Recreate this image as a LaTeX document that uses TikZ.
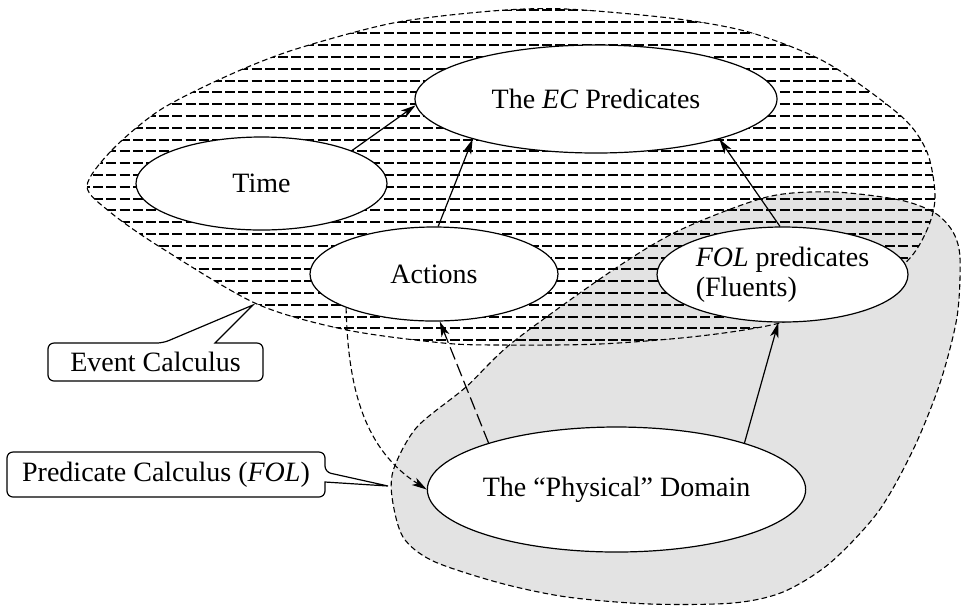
\documentclass[tikz,border=0pt]{standalone}
\usepackage{fontspec}
\setmainfont{Liberation Serif}
\usetikzlibrary{shapes.geometric,arrows.meta}
\begin{document}
\begin{tikzpicture}[x=0.5pt,y=-0.5pt,
  every node/.style={font=\fontsize{14}{15}\selectfont},
  bub/.style={ellipse,draw,line width=0.6pt,fill=white,inner sep=0pt},
  bnd/.style={line width=0.55pt,dash pattern=on 2.8pt off 1.6pt},
  hatch/.style={line width=1pt,dash pattern=on 5pt off 1.6pt},
  arr/.style={line width=0.6pt,-{Stealth[length=7.5pt,width=4.2pt,inset=2pt]}},
  lbl/.style={line width=0.6pt}]
\path[use as bounding box] (0,0) rectangle (962,607);

% grey FOL region
\fill[black!11] plot[smooth cycle] coordinates {(466,387) (513,342) (613,270) (680,230) (767,197) (833,192) (900,200) (935,213) (953,232) (960,258) (957,317) (940,383) (913,450) (878,512) (830,563) (783,592) (733,603) (650,604) (567,597) (500,583) (433,561) (403,537) (392,497) (394,468) (417,427)};

% hatched EC region
\begin{scope}
\clip plot[smooth cycle] coordinates {(87,186) (112,150) (160,110) (227,76) (293,50) (393,23) (492,11) (566,9) (678,19) (752,33) (827,63) (901,116) (927,152) (935,195) (929,225) (910,258) (865,295) (780,323) (700,336) (600,344) (500,345) (443,343) (347,330) (257,304) (160,247) (110,212)};
\foreach \k in {0,...,29}{\pgfmathsetmacro\yy{9.7+11.8*\k}\draw[hatch] (80,\yy) -- (945,\yy);}
\end{scope}

% region borders
\draw[bnd] plot[smooth cycle] coordinates {(87,186) (112,150) (160,110) (227,76) (293,50) (393,23) (492,11) (566,9) (678,19) (752,33) (827,63) (901,116) (927,152) (935,195) (929,225) (910,258) (865,295) (780,323) (700,336) (600,344) (500,345) (443,343) (347,330) (257,304) (160,247) (110,212)};
\draw[bnd] plot[smooth cycle] coordinates {(466,387) (513,342) (613,270) (680,230) (767,197) (833,192) (900,200) (935,213) (953,232) (960,258) (957,317) (940,383) (913,450) (878,512) (830,563) (783,592) (733,603) (650,604) (567,597) (500,583) (433,561) (403,537) (392,497) (394,468) (417,427)};

% nodes
\node[bub,minimum width=181pt,minimum height=54pt] (ec) at (596,99) {The \textit{EC} Predicates};
\node[bub,minimum width=125.5pt,minimum height=46.5pt] (time) at (261.5,183.5) {Time};
\node[bub,minimum width=124pt,minimum height=47pt] (act) at (434,274) {Actions};
\node[bub,minimum width=125.5pt,minimum height=47.5pt,align=left] (fol) at (782.5,274.5) {\textit{FOL} predicates\\(Fluents)};
\node[bub,minimum width=181.5pt,minimum height=62.5pt] (phys) at (616.5,489.5) {The “Physical” Domain};

% connectors
\draw[arr] (time.20) -- (ec.182);
\draw[arr] (act.85) -- (ec.198);
\draw[arr] (fol.93) -- (ec.342);
\draw[arr] (phys.20.6) -- (fol.265);
\draw[arr,dash pattern=on 6.5pt off 2.5pt] (phys.160) -- (act.277);
\draw[arr,line width=0.55pt,dash pattern=on 2.8pt off 1.6pt] (act.201) .. controls (348,390) and (365,450) .. (phys.180);

% labels
\node (evl) at (155.5,362) {Event Calculus};
\draw[lbl] (215,343) [rounded corners=3pt] -- (263,343) -- (263,381) -- (48,381) -- (48,343) -- (163,343) [sharp corners] -- (253,305) -- cycle;
\node (pcl) at (166,474.5) {Predicate Calculus (\textit{FOL})};
\draw[lbl] (325,482) [rounded corners=3pt] -- (325,497) -- (7,497) -- (7,452) -- (325,452) -- (325,472) [sharp corners] -- (388,486) -- cycle;
\end{tikzpicture}
\end{document}
